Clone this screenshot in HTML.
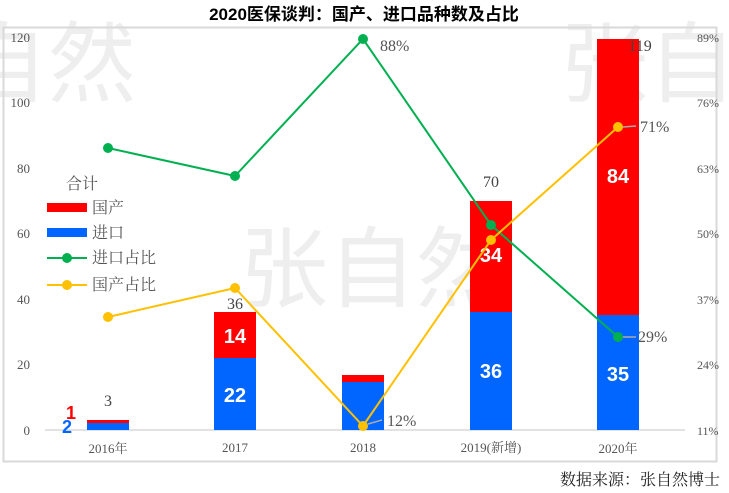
<!DOCTYPE html>
<html><head><meta charset="utf-8"><style>
html,body{margin:0;background:#fff;width:729px;height:493px;overflow:hidden;}
svg{display:block;}
svg text{font-family:"Liberation Serif","Noto Serif CJK SC",serif;}
svg text.b{font-family:"Liberation Sans","Noto Sans CJK SC",sans-serif;font-weight:bold;}
svg text.w{font-family:"Noto Sans CJK SC",sans-serif;}
</style></head><body>
<svg width="729" height="493" viewBox="0 0 729 493" xmlns="http://www.w3.org/2000/svg">
<rect width="729" height="493" fill="#fff"/>
<g fill="#eeeeee" font-size="88">
<text class="w" x="-40" y="95">自然</text>
<text class="w" x="560" y="95">张自</text>
<text class="w" x="240" y="300">张自然</text>
</g>
<rect x="3.5" y="27.5" width="713" height="434" fill="none" stroke="#d9d9d9" stroke-width="2"/>
<text class="b" x="364" y="20" text-anchor="middle" font-size="17">2020医保谈判：国产、进口品种数及占比</text>
<g font-size="13" fill="#555" text-anchor="end">
<text x="30" y="435">0</text><text x="30" y="369">20</text><text x="30" y="304">40</text>
<text x="30" y="238">60</text><text x="30" y="173">80</text><text x="30" y="107">100</text><text x="30" y="42">120</text>
</g>
<g font-size="12" fill="#555">
<text x="697" y="435">11%</text><text x="697" y="369">24%</text><text x="697" y="304">37%</text>
<text x="697" y="238">50%</text><text x="697" y="173">63%</text><text x="697" y="107">76%</text><text x="697" y="42">89%</text>
</g>
<line x1="45" y1="430" x2="685" y2="430" stroke="#d9d9d9" stroke-width="1.5"/>
<g>
<rect x="87" y="420" width="42" height="3" fill="#f00"/><rect x="87" y="423" width="42" height="7" fill="#0066ff"/>
<rect x="214" y="312" width="42" height="46" fill="#f00"/><rect x="214" y="358" width="42" height="72" fill="#0066ff"/>
<rect x="342" y="375" width="42" height="7" fill="#f00"/><rect x="342" y="382" width="42" height="48" fill="#0066ff"/>
<rect x="470" y="201" width="42" height="111" fill="#f00"/><rect x="470" y="312" width="42" height="118" fill="#0066ff"/>
<rect x="597" y="39" width="42" height="276" fill="#f00"/><rect x="597" y="315" width="42" height="115" fill="#0066ff"/>
</g>
<g fill="#fff" font-size="20" text-anchor="middle">
<text class="b" x="235" y="343">14</text><text class="b" x="235" y="402">22</text>
<text class="b" x="491" y="262">34</text><text class="b" x="491" y="378">36</text>
<text class="b" x="618" y="183">84</text><text class="b" x="618" y="381">35</text>
</g>
<text class="b" x="71" y="419" fill="#f00" font-size="18" text-anchor="middle">1</text>
<text class="b" x="67" y="433" fill="#0066ff" font-size="18" text-anchor="middle">2</text>
<g fill="#444" font-size="16" text-anchor="middle">
<text x="108" y="406">3</text><text x="235" y="309">36</text><text x="491" y="187">70</text><text x="640" y="51">119</text>
</g>
<polyline points="108,148 235,176 363,39 491,225 618,337" fill="none" stroke="#00b050" stroke-width="2"/>
<polyline points="108,317 235,288 363,426 491,240 618,127" fill="none" stroke="#ffc000" stroke-width="2"/>
<g fill="#00b050"><circle cx="108" cy="148" r="5"/><circle cx="235" cy="176" r="5"/><circle cx="363" cy="39" r="5"/><circle cx="491" cy="225" r="5"/><circle cx="618" cy="337" r="5"/></g>
<g fill="#ffc000"><circle cx="108" cy="317" r="5"/><circle cx="235" cy="288" r="5"/><circle cx="363" cy="426" r="5"/><circle cx="491" cy="240" r="5"/><circle cx="618" cy="127" r="5"/></g>
<g stroke="#aaa" stroke-width="1.5"><line x1="623" y1="127" x2="636" y2="126"/><line x1="623" y1="337" x2="636" y2="337"/><line x1="368" y1="424" x2="382" y2="420"/></g>
<g fill="#555" font-size="16">
<text x="380" y="51">88%</text><text x="640" y="132">71%</text><text x="638" y="342">29%</text><text x="387" y="426">12%</text>
</g>
<g fill="#555" font-size="13" text-anchor="middle">
<text x="108" y="453">2016年</text><text x="235" y="452">2017</text><text x="363" y="452">2018</text><text x="491" y="452">2019(新增)</text><text x="618" y="453">2020年</text>
</g>
<g font-size="16" fill="#555">
<text x="66" y="189">合计</text>
<rect x="47" y="203" width="40" height="9" fill="#f00"/><text x="92" y="213">国产</text>
<rect x="47" y="228" width="40" height="9" fill="#0066ff"/><text x="92" y="238">进口</text>
<line x1="47" y1="258" x2="87" y2="258" stroke="#00b050" stroke-width="2"/><circle cx="67" cy="258" r="5" fill="#00b050"/><text x="92" y="263">进口占比</text>
<line x1="47" y1="285" x2="87" y2="285" stroke="#ffc000" stroke-width="2"/><circle cx="67" cy="285" r="5" fill="#ffc000"/><text x="92" y="290">国产占比</text>
</g>
<text x="720" y="485" font-size="16" fill="#222" text-anchor="end">数据来源：张自然博士</text>
</svg>
</body></html>
